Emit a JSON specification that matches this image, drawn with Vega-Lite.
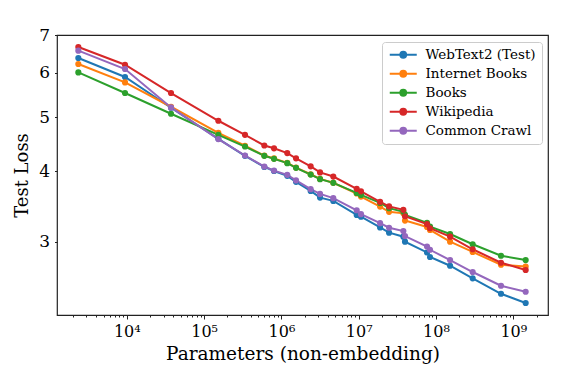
{
  "$schema": "https://vega.github.io/schema/vega-lite/v6.json",
  "width": 491,
  "height": 280,
  "autosize": "none",
  "padding": {"left": 57, "top": 35, "right": 20, "bottom": 63},
  "background": "white",
  "config": {
    "view": {"stroke": "#222", "strokeWidth": 1.2},
    "axis": {
      "labelFont": "DejaVu Serif",
      "titleFont": "DejaVu Serif",
      "labelColor": "black",
      "titleColor": "black",
      "titleFontWeight": "normal",
      "grid": false,
      "domain": false,
      "tickColor": "#222"
    }
  },
  "data": {
    "values": [
      {"p": 2360, "loss": 6.370, "s": "WebText2 (Test)"},
      {"p": 9480, "loss": 5.893, "s": "WebText2 (Test)"},
      {"p": 37300, "loss": 5.195, "s": "WebText2 (Test)"},
      {"p": 152800, "loss": 4.574, "s": "WebText2 (Test)"},
      {"p": 338000, "loss": 4.265, "s": "WebText2 (Test)"},
      {"p": 601000, "loss": 4.075, "s": "WebText2 (Test)"},
      {"p": 802000, "loss": 4.008, "s": "WebText2 (Test)"},
      {"p": 1190000, "loss": 3.929, "s": "WebText2 (Test)"},
      {"p": 1545000, "loss": 3.834, "s": "WebText2 (Test)"},
      {"p": 2390000, "loss": 3.694, "s": "WebText2 (Test)"},
      {"p": 3160000, "loss": 3.594, "s": "WebText2 (Test)"},
      {"p": 4690000, "loss": 3.546, "s": "WebText2 (Test)"},
      {"p": 9420000, "loss": 3.348, "s": "WebText2 (Test)"},
      {"p": 10700000, "loss": 3.324, "s": "WebText2 (Test)"},
      {"p": 18900000, "loss": 3.180, "s": "WebText2 (Test)"},
      {"p": 24700000, "loss": 3.113, "s": "WebText2 (Test)"},
      {"p": 37800000, "loss": 3.062, "s": "WebText2 (Test)"},
      {"p": 39700000, "loss": 3.000, "s": "WebText2 (Test)"},
      {"p": 76500000, "loss": 2.870, "s": "WebText2 (Test)"},
      {"p": 83600000, "loss": 2.817, "s": "WebText2 (Test)"},
      {"p": 152000000, "loss": 2.718, "s": "WebText2 (Test)"},
      {"p": 298000000, "loss": 2.581, "s": "WebText2 (Test)"},
      {"p": 693000000, "loss": 2.423, "s": "WebText2 (Test)"},
      {"p": 1445000000, "loss": 2.333, "s": "WebText2 (Test)"},

      {"p": 2360, "loss": 6.215, "s": "Internet Books"},
      {"p": 9480, "loss": 5.764, "s": "Internet Books"},
      {"p": 37300, "loss": 5.216, "s": "Internet Books"},
      {"p": 152800, "loss": 4.688, "s": "Internet Books"},
      {"p": 338000, "loss": 4.445, "s": "Internet Books"},
      {"p": 601000, "loss": 4.270, "s": "Internet Books"},
      {"p": 802000, "loss": 4.220, "s": "Internet Books"},
      {"p": 1190000, "loss": 4.145, "s": "Internet Books"},
      {"p": 1545000, "loss": 4.065, "s": "Internet Books"},
      {"p": 2390000, "loss": 3.955, "s": "Internet Books"},
      {"p": 3160000, "loss": 3.880, "s": "Internet Books"},
      {"p": 4690000, "loss": 3.820, "s": "Internet Books"},
      {"p": 9420000, "loss": 3.655, "s": "Internet Books"},
      {"p": 10700000, "loss": 3.609, "s": "Internet Books"},
      {"p": 18900000, "loss": 3.464, "s": "Internet Books"},
      {"p": 24700000, "loss": 3.390, "s": "Internet Books"},
      {"p": 37800000, "loss": 3.370, "s": "Internet Books"},
      {"p": 39700000, "loss": 3.271, "s": "Internet Books"},
      {"p": 76500000, "loss": 3.186, "s": "Internet Books"},
      {"p": 83600000, "loss": 3.148, "s": "Internet Books"},
      {"p": 152000000, "loss": 3.000, "s": "Internet Books"},
      {"p": 298000000, "loss": 2.876, "s": "Internet Books"},
      {"p": 693000000, "loss": 2.729, "s": "Internet Books"},
      {"p": 1445000000, "loss": 2.709, "s": "Internet Books"},

      {"p": 2360, "loss": 6.005, "s": "Books"},
      {"p": 9480, "loss": 5.518, "s": "Books"},
      {"p": 37300, "loss": 5.069, "s": "Books"},
      {"p": 152800, "loss": 4.649, "s": "Books"},
      {"p": 338000, "loss": 4.431, "s": "Books"},
      {"p": 601000, "loss": 4.266, "s": "Books"},
      {"p": 802000, "loss": 4.213, "s": "Books"},
      {"p": 1190000, "loss": 4.139, "s": "Books"},
      {"p": 1545000, "loss": 4.060, "s": "Books"},
      {"p": 2390000, "loss": 3.950, "s": "Books"},
      {"p": 3160000, "loss": 3.876, "s": "Books"},
      {"p": 4690000, "loss": 3.818, "s": "Books"},
      {"p": 9420000, "loss": 3.664, "s": "Books"},
      {"p": 10700000, "loss": 3.634, "s": "Books"},
      {"p": 18900000, "loss": 3.517, "s": "Books"},
      {"p": 24700000, "loss": 3.442, "s": "Books"},
      {"p": 37800000, "loss": 3.390, "s": "Books"},
      {"p": 39700000, "loss": 3.348, "s": "Books"},
      {"p": 76500000, "loss": 3.240, "s": "Books"},
      {"p": 83600000, "loss": 3.191, "s": "Books"},
      {"p": 152000000, "loss": 3.096, "s": "Books"},
      {"p": 298000000, "loss": 2.968, "s": "Books"},
      {"p": 693000000, "loss": 2.832, "s": "Books"},
      {"p": 1445000000, "loss": 2.782, "s": "Books"},

      {"p": 2360, "loss": 6.664, "s": "Wikipedia"},
      {"p": 9480, "loss": 6.197, "s": "Wikipedia"},
      {"p": 37300, "loss": 5.518, "s": "Wikipedia"},
      {"p": 152800, "loss": 4.925, "s": "Wikipedia"},
      {"p": 338000, "loss": 4.649, "s": "Wikipedia"},
      {"p": 601000, "loss": 4.450, "s": "Wikipedia"},
      {"p": 802000, "loss": 4.399, "s": "Wikipedia"},
      {"p": 1190000, "loss": 4.313, "s": "Wikipedia"},
      {"p": 1545000, "loss": 4.222, "s": "Wikipedia"},
      {"p": 2390000, "loss": 4.085, "s": "Wikipedia"},
      {"p": 3160000, "loss": 3.985, "s": "Wikipedia"},
      {"p": 4690000, "loss": 3.918, "s": "Wikipedia"},
      {"p": 9420000, "loss": 3.725, "s": "Wikipedia"},
      {"p": 10700000, "loss": 3.687, "s": "Wikipedia"},
      {"p": 18900000, "loss": 3.531, "s": "Wikipedia"},
      {"p": 24700000, "loss": 3.467, "s": "Wikipedia"},
      {"p": 37800000, "loss": 3.418, "s": "Wikipedia"},
      {"p": 39700000, "loss": 3.330, "s": "Wikipedia"},
      {"p": 76500000, "loss": 3.223, "s": "Wikipedia"},
      {"p": 83600000, "loss": 3.170, "s": "Wikipedia"},
      {"p": 152000000, "loss": 3.062, "s": "Wikipedia"},
      {"p": 298000000, "loss": 2.908, "s": "Wikipedia"},
      {"p": 693000000, "loss": 2.752, "s": "Wikipedia"},
      {"p": 1445000000, "loss": 2.671, "s": "Wikipedia"},

      {"p": 2360, "loss": 6.564, "s": "Common Crawl"},
      {"p": 9480, "loss": 6.089, "s": "Common Crawl"},
      {"p": 37300, "loss": 5.201, "s": "Common Crawl"},
      {"p": 152800, "loss": 4.569, "s": "Common Crawl"},
      {"p": 338000, "loss": 4.271, "s": "Common Crawl"},
      {"p": 601000, "loss": 4.082, "s": "Common Crawl"},
      {"p": 802000, "loss": 4.015, "s": "Common Crawl"},
      {"p": 1190000, "loss": 3.945, "s": "Common Crawl"},
      {"p": 1545000, "loss": 3.857, "s": "Common Crawl"},
      {"p": 2390000, "loss": 3.720, "s": "Common Crawl"},
      {"p": 3160000, "loss": 3.649, "s": "Common Crawl"},
      {"p": 4690000, "loss": 3.586, "s": "Common Crawl"},
      {"p": 9420000, "loss": 3.412, "s": "Common Crawl"},
      {"p": 10700000, "loss": 3.358, "s": "Common Crawl"},
      {"p": 18900000, "loss": 3.236, "s": "Common Crawl"},
      {"p": 24700000, "loss": 3.176, "s": "Common Crawl"},
      {"p": 37800000, "loss": 3.134, "s": "Common Crawl"},
      {"p": 39700000, "loss": 3.070, "s": "Common Crawl"},
      {"p": 76500000, "loss": 2.941, "s": "Common Crawl"},
      {"p": 83600000, "loss": 2.902, "s": "Common Crawl"},
      {"p": 152000000, "loss": 2.782, "s": "Common Crawl"},
      {"p": 298000000, "loss": 2.649, "s": "Common Crawl"},
      {"p": 693000000, "loss": 2.504, "s": "Common Crawl"},
      {"p": 1445000000, "loss": 2.443, "s": "Common Crawl"}
    ]
  },
  "mark": {"type": "line", "strokeWidth": 2, "point": {"filled": true, "size": 38, "opacity": 1}},
  "encoding": {
    "x": {
      "field": "p",
      "type": "quantitative",
      "scale": {"type": "log", "domain": [1250, 2810000000], "nice": false},
      "axis": {
        "title": "Parameters (non-embedding)",
        "titleFontSize": 18.5,
        "titlePadding": 5,
        "labelFontSize": 16,
        "labelPadding": 4,
        "labelFlush": false,
        "labelOverlap": false,
        "tickSize": {"condition": {"test": "abs(log(datum.value)/LN10 - round(log(datum.value)/LN10)) < 1e-6", "value": 4}, "value": 2},
        "values": [2000,3000,4000,5000,6000,7000,8000,9000,10000,20000,30000,40000,50000,60000,70000,80000,90000,100000,200000,300000,400000,500000,600000,700000,800000,900000,1000000,2000000,3000000,4000000,5000000,6000000,7000000,8000000,9000000,10000000,20000000,30000000,40000000,50000000,60000000,70000000,80000000,90000000,100000000,200000000,300000000,400000000,500000000,600000000,700000000,800000000,900000000,1000000000,2000000000],
        "labelExpr": "abs(log(datum.value)/LN10 - round(log(datum.value)/LN10)) < 1e-6 ? '10' + ['⁰','¹','²','³','⁴','⁵','⁶','⁷','⁸','⁹'][round(log(datum.value)/LN10)] : ''"
      }
    },
    "y": {
      "field": "loss",
      "type": "quantitative",
      "scale": {"type": "log", "domain": [2.221, 7], "nice": false},
      "axis": {
        "title": "Test Loss",
        "titleFontSize": 18,
        "titlePadding": 7,
        "labelFontSize": 17,
        "labelPadding": 5,
        "tickSize": 2.5,
        "values": [3, 4, 5, 6, 7],
        "format": "d"
      }
    },
    "color": {
      "field": "s",
      "type": "nominal",
      "sort": ["WebText2 (Test)", "Internet Books", "Books", "Wikipedia", "Common Crawl"],
      "scale": {
        "domain": ["WebText2 (Test)", "Internet Books", "Books", "Wikipedia", "Common Crawl"],
        "range": ["#1f77b4", "#ff7f0e", "#2ca02c", "#d62728", "#9467bd"]
      },
      "legend": {
        "title": null,
        "orient": "none",
        "legendX": 325,
        "legendY": 7,
        "symbolType": "M-1,0L4.4,0M2.3,0A0.6,0.6,0,1,1,1.1,0A0.6,0.6,0,1,1,2.3,0Z",
        "symbolSize": 100,
        "symbolStrokeWidth": 1.8,
        "labelFont": "DejaVu Serif",
        "labelFontSize": 13.5,
        "labelColor": "black",
        "labelOffset": 24,
        "rowPadding": 4,
        "strokeColor": "#cccccc",
        "fillColor": "white",
        "cornerRadius": 3,
        "padding": 6,
        "encode": {
          "symbols": {
            "update": {
              "fill": {"scale": "color", "field": "value"},
              "stroke": {"scale": "color", "field": "value"},
              "fillOpacity": {"value": 1},
              "strokeOpacity": {"value": 1}
            }
          }
        }
      }
    }
  }
}
